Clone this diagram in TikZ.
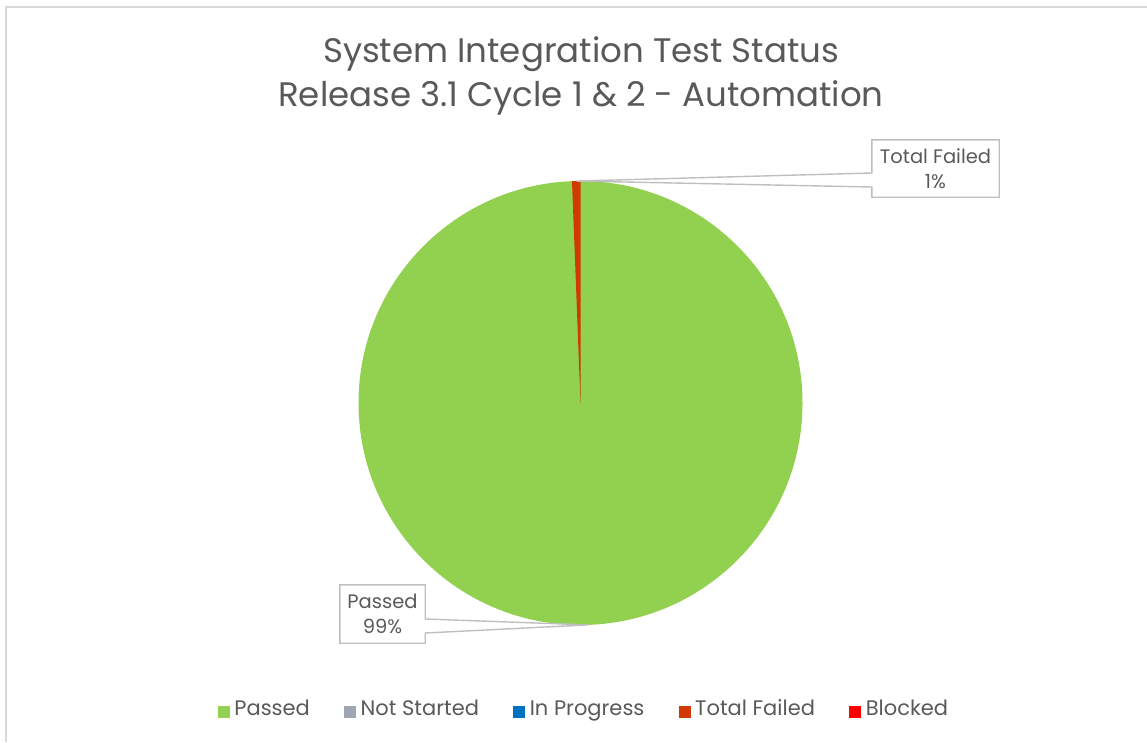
\documentclass[tikz,border=0pt]{standalone}
\usepackage{fontspec}
\setmainfont{Poppins}
\usepackage{tikz}
\usetikzlibrary{calc,positioning}
\definecolor{txtgray}{HTML}{595959}
\definecolor{framegray}{HTML}{D9D9D9}
\definecolor{boxgray}{HTML}{BFBFBF}
\definecolor{passgreen}{HTML}{92D050}
\definecolor{notgray}{HTML}{9EA6B4}
\definecolor{progblue}{HTML}{0070C0}
\definecolor{failred}{HTML}{D03A02}
\definecolor{blockred}{HTML}{FF0000}
\tikzset{
    title/.style = {text=txtgray, align=center, inner sep=0pt, font=\fontsize{34}{44}\selectfont},
    lbl/.style = {text=txtgray, align=center, inner sep=0pt, font=\fontsize{19.5}{25}\selectfont},
    callout/.style = {draw=boxgray, line width=1.4pt},
    key/.style = {minimum size=12pt, inner sep=0pt},
    keytxt/.style = {text=txtgray, inner sep=0pt, text height=0.7em, text depth=0pt, font=\fontsize{21}{24}\selectfont}
}

\begin{document}
\begin{tikzpicture}[x=1pt,y=-1pt]
	\useasboundingbox (0,0) rectangle (1147,742);
	% chart area
	\draw[framegray,line width=2pt] (6,742) -- (6,7) -- (1147,7);
	\node[title] (title) at (581,76) {System Integration Test Status\\Release 3.1 Cycle 1 \& 2 - Automation};

	% pie
	\coordinate (pie) at (580.5,403);
	\fill[passgreen] (pie) circle[radius=222];
	\fill[failred] (pie) -- ($(pie)+(-92.2:222)$) arc[start angle=-92.2,end angle=-90,radius=222] -- cycle;

	% data labels
	\node[lbl,minimum width=127pt,minimum height=57pt] (tf) at (935.5,168.5) {Total Failed\\1\%};
	\coordinate (tf tip) at ($(pie)+(-91:222)$);
	\draw[callout] (tf.north west) -- (tf.north east) -- (tf.south east) -- (tf.south west)
		-- ($(tf.west)+(0,18.5)$) -- (tf tip) -- ($(tf.west)+(0,4.5)$) -- cycle;

	\node[lbl,minimum width=85pt,minimum height=58pt] (pass) at (382.5,614) {Passed\\99\%};
	\coordinate (pass tip) at ($(pie)+(88:222)$);
	\draw[callout] (pass.north east) -- (pass.north west) -- (pass.south west) -- (pass.south east)
		-- ($(pass.east)+(0,19)$) -- (pass tip) -- ($(pass.east)+(0,5)$) -- cycle;

	% legend
	\node[key,fill=passgreen] (k1) at (224,712) {};
	\node[keytxt,right=4pt of k1] (l1) {Passed};
	\node[key,fill=notgray,right=34pt of l1] (k2) {};
	\node[keytxt,right=4pt of k2] (l2) {Not Started};
	\node[key,fill=progblue,right=34pt of l2] (k3) {};
	\node[keytxt,right=4pt of k3] (l3) {In Progress};
	\node[key,fill=failred,right=34pt of l3] (k4) {};
	\node[keytxt,right=4pt of k4] (l4) {Total Failed};
	\node[key,fill=blockred,right=34pt of l4] (k5) {};
	\node[keytxt,right=4pt of k5] (l5) {Blocked};
\end{tikzpicture}
\end{document}
